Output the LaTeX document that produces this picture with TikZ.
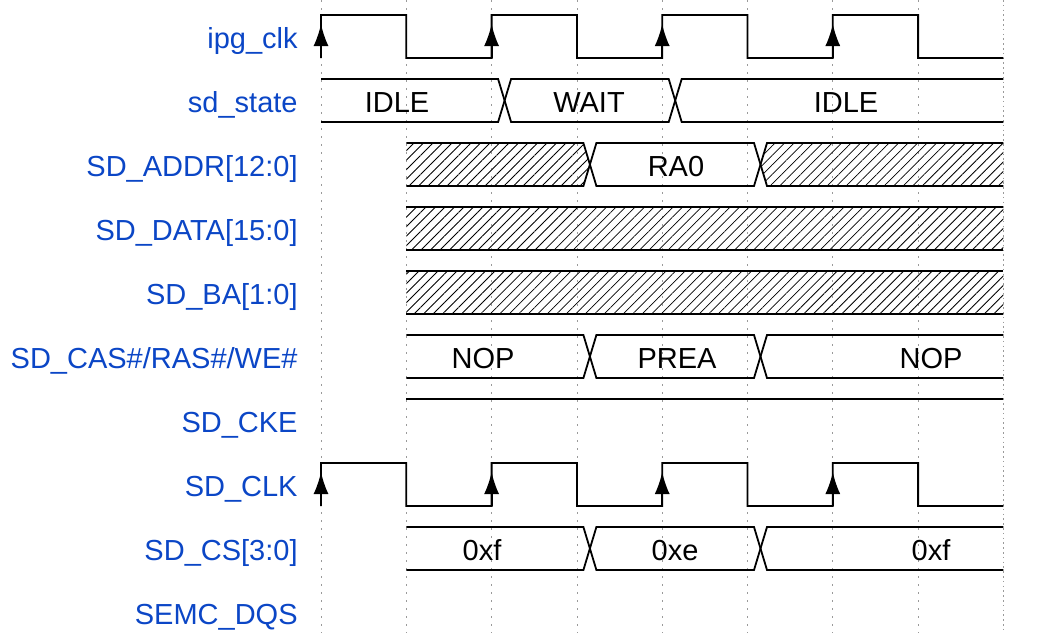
\documentclass[tikz,border=0pt]{standalone}
\usepackage{fontspec}
\setmainfont{Liberation Sans}
\usepackage{tikz}
\usetikzlibrary{arrows.meta,patterns.meta}
\usepackage{xcolor}
\definecolor{sigblue}{HTML}{0B46C6}
\definecolor{gridgray}{HTML}{9A9A9A}
\tikzset{
  wave/.style={line width=0.9pt, line join=miter},
  hatch/.style={pattern={Lines[angle=45,distance=3.36pt,line width=0.4pt]}},
  gridline/.style={gridgray, line width=0.4pt, dash pattern=on 0.8pt off 3.2pt},
  signame/.style={sigblue, anchor=base east, inner sep=0pt},
  busval/.style={anchor=base}
}

\begin{document}
\begin{tikzpicture}[x=0.5pt, y=-0.5pt, font=\fontsize{14.5}{17}\selectfont]
\useasboundingbox (0,0) rectangle (1038,633);
% ---------------- dotted lines on every clock edge ----------------
\foreach \k in {0,...,7}{\draw[gridline] (321+\k*85.3,0) -- (321+\k*85.3,633);}
\draw[gridline, dash pattern=on 0.8pt off 1.6pt] (1003.4,0) -- (1003.4,633);
% ---------------- signal names ----------------
\node[signame] (n-ipg)   at (298,48)  {ipg\_clk};
\node[signame] (n-state) at (298,112) {sd\_state};
\node[signame] (n-addr)  at (298,176) {SD\_ADDR[12:0]};
\node[signame] (n-data)  at (298,240) {SD\_DATA[15:0]~};
\node[signame] (n-ba)    at (298,304) {SD\_BA[1:0]};
\node[signame] (n-cmd)   at (298,368) {SD\_CAS\#/RAS\#/WE\#};
\node[signame] (n-cke)   at (298,432) {SD\_CKE};
\node[signame] (n-clk)   at (298,496) {SD\_CLK};
\node[signame] (n-cs)    at (298,560) {SD\_CS[3:0]};
\node[signame] (n-dqs)   at (298,624) {SEMC\_DQS};
% ---------------- ipg_clk and SD_CLK ----------------
\foreach \r in {0,448}{
\begin{scope}[shift={(0,\r)}]
\draw[wave] (321,58) \foreach \k in {0,2,4,6}{
    -- (321+\k*85.3,15) -- (406.3+\k*85.3,15) -- ++(0,43) -- ++(85.3,0)};
\foreach \k in {0,2,4,6}{\draw[wave, -{Latex[length=11pt,width=7.5pt]}]
    (321+\k*85.3,58) -- (321+\k*85.3,24);}
\end{scope}
}
% ---------------- sd_state ----------------
\begin{scope}[shift={(0,64)}]
\draw[wave] (321,15) -- (498.1,15) -- (511.1,58) -- (668.7,58) -- (681.7,15) -- (1003.4,15);
\draw[wave] (321,58) -- (498.1,58) -- (511.1,15) -- (668.7,15) -- (681.7,58) -- (1003.4,58);
\node[busval] (v-idle1) at (397,48) {IDLE};
\node[busval] (v-wait)  at (589,48) {WAIT};
\node[busval] (v-idle2) at (846,48) {IDLE};
\end{scope}
% ---------------- SD_ADDR, command and SD_CS ----------------
\foreach \r in {128,320,512}{
\begin{scope}[shift={(0,\r)}]
\draw[wave] (406.3,15) -- (583.4,15) -- (596.4,58) -- (754,58) -- (767,15) -- (1003.4,15);
\draw[wave] (406.3,58) -- (583.4,58) -- (596.4,15) -- (754,15) -- (767,58) -- (1003.4,58);
\end{scope}
}
\fill[hatch] (406.3,143) -- (583.4,143) -- (589.9,164.5) -- (583.4,186) -- (406.3,186) -- cycle;
\fill[hatch] (760.5,164.5) -- (767,143) -- (1003.4,143) -- (1003.4,186) -- (767,186) -- cycle;
\node[busval] (v-ra0)  at (676,176) {RA0};
\node[busval] (v-nop1) at (483,368) {NOP};
\node[busval] (v-prea) at (677,368) {PREA};
\node[busval] (v-nop2) at (931,368) {NOP};
\node[busval] (v-cs1)  at (482,560) {0xf};
\node[busval] (v-cs2)  at (675,560) {0xe};
\node[busval] (v-cs3)  at (931,560) {0xf};
% ---------------- SD_DATA and SD_BA: don't care ----------------
\foreach \r in {192,256}{
\begin{scope}[shift={(0,\r)}]
\fill[hatch] (406.3,15) rectangle (1003.4,58);
\draw[wave] (406.3,15) -- (1003.4,15);
\draw[wave] (406.3,58) -- (1003.4,58);
\end{scope}
}
% ---------------- SD_CKE ----------------
\draw[wave] (406.3,399) -- (1003.4,399);
\end{tikzpicture}
\end{document}
